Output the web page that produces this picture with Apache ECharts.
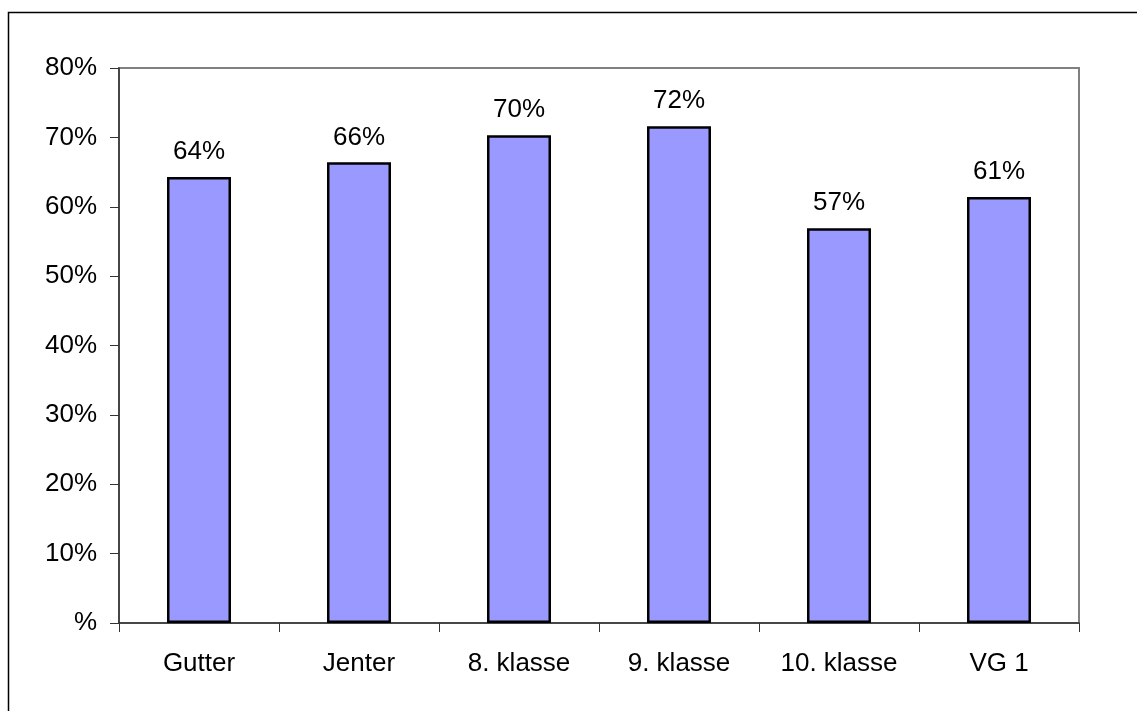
<!DOCTYPE html>
<html>
<head>
<meta charset="utf-8">
<script src="https://cdn.jsdelivr.net/npm/echarts@6/dist/echarts.min.js"></script>
<style>
html,body{margin:0;padding:0;background:#fff;}
#chart{width:1137px;height:711px;}
</style>
</head>
<body>
<div id="chart"></div>
<script>
const categories = ['Gutter', 'Jenter', '8. klasse', '9. klasse', '10. klasse', 'VG 1'];
const values = [64.3, 66.4, 70.3, 71.6, 56.9, 61.4];
const yTicks = [0, 10, 20, 30, 40, 50, 60, 70, 80];

const FONT = '"Liberation Sans", Arial, sans-serif';
const chart = echarts.init(document.getElementById('chart'), null, {renderer: 'canvas'});
chart.setOption({
  animation: false,
  backgroundColor: '#ffffff',
  textStyle: {fontFamily: FONT},
  graphic: [{
    type: 'rect',
    shape: {x: 8.5, y: 12.5, width: 3000, height: 3000},
    style: {fill: 'none', stroke: '#000', lineWidth: 1.5},
    silent: true, z: -10
  }],
  grid: {
    left: 119, right: 58, top: 68, bottom: 88,
    show: true, borderColor: '#808080', borderWidth: 2, backgroundColor: 'transparent'
  },
  xAxis: {
    type: 'category',
    data: categories,
    axisLine: {show: true, lineStyle: {color: '#333', width: 1.5}},
    axisTick: {show: true, length: 9, alignWithLabel: false, lineStyle: {color: '#333', width: 1}},
    axisLabel: {color: '#000', fontSize: 26, fontFamily: FONT, margin: 28, interval: 0}
  },
  yAxis: {
    type: 'value',
    min: yTicks[0], max: yTicks[yTicks.length - 1], interval: 10,
    axisLine: {show: true, lineStyle: {color: '#333', width: 1.5}},
    axisTick: {show: true, length: 9, lineStyle: {color: '#333', width: 1}},
    splitLine: {show: false},
    axisLabel: {
      color: '#000', fontSize: 26, fontFamily: FONT, margin: 22,
      formatter: v => v === 0 ? '%' : Math.round(v) + '%'
    }
  },
  series: [{
    type: 'bar',
    data: values,
    barWidth: '40%',
    itemStyle: {color: '#9999FF', borderColor: '#000', borderWidth: 2.5},
    label: {
      show: true, position: 'top', distance: 12,
      color: '#000', fontSize: 26, fontFamily: FONT,
      formatter: p => Math.round(p.value) + '%'
    }
  }]
});
</script>
</body>
</html>
